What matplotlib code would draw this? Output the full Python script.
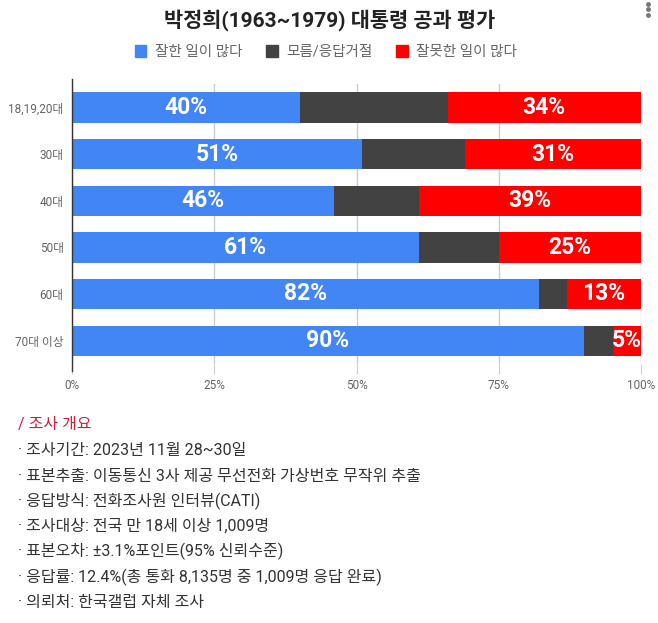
import matplotlib
matplotlib.use("Agg")
import matplotlib.pyplot as plt
from matplotlib.lines import Line2D
import numpy as np

plt.rcParams['font.family'] = ['Roboto', 'Noto Sans CJK KR', 'DejaVu Sans']

# Data
age_groups = ['18,19,20대', '30대', '40대', '50대', '60대', '70대 이상']
good = [40, 51, 46, 61, 82, 90]
unknown = [26, 18, 15, 14, 5, 5]
bad = [34, 31, 39, 25, 13, 5]
series_names = ['잘한 일이 많다', '모름/응답거절', '잘못한 일이 많다']
series_colors = ['#4285F4', '#424242', '#FF0000']
x_ticks = [0, 25, 50, 75, 100]

notes_title = '/ 조사 개요'
notes = [
    '조사기간: 2023년 11월 28~30일',
    '표본추출: 이동통신 3사 제공 무선전화 가상번호 무작위 추출',
    '응답방식: 전화조사원 인터뷰(CATI)',
    '조사대상: 전국 만 18세 이상 1,009명',
    '표본오차: ±3.1%포인트(95% 신뢰수준)',
    '응답률: 12.4%(총 통화 8,135명 중 1,009명 응답 완료)',
    '의뢰처: 한국갤럽 자체 조사',
]

fig = plt.figure(figsize=(6.58, 6.23), dpi=100)
ax = fig.add_axes([72 / 658, 1 - 364 / 623, (641 - 72) / 658, 280 / 623])

y = np.arange(len(age_groups))
good = np.array(good)
unknown = np.array(unknown)
bad = np.array(bad)
h = 0.65

ax.barh(y, good, height=h, color=series_colors[0], zorder=3)
ax.barh(y, unknown, left=good, height=h, color=series_colors[1], zorder=3)
ax.barh(y, bad, left=good + unknown, height=h, color=series_colors[2], zorder=3)

for i in range(len(y)):
    ax.text(good[i] / 2, y[i], f'{good[i]}%', ha='center', va='center',
            color='white', fontsize=16.5, fontweight='bold', zorder=4)
    ax.text(good[i] + unknown[i] + bad[i] / 2, y[i], f'{bad[i]}%', ha='center',
            va='center', color='white', fontsize=16.5, fontweight='bold', zorder=4)

ax.set_xlim(0, 100)
ax.set_ylim(len(y) - 0.5, -0.5)
ax.set_yticks(y)
ax.set_yticklabels(age_groups, fontsize=8.5, color='#666666')
ax.set_xticks(x_ticks)
ax.set_xticklabels([f'{t}%' for t in x_ticks], fontsize=8.5, color='#666666')
ax.tick_params(axis='y', length=0, pad=6)
ax.tick_params(axis='x', length=7, color='#cccccc', pad=4)
ax.grid(axis='x', color='#cccccc', linewidth=1, zorder=0)
for s in ['top', 'right', 'bottom']:
    ax.spines[s].set_visible(False)
ax.spines['left'].set_color('#333333')
ax.spines['left'].set_linewidth(1)
ax.spines['left'].set_bounds(len(y) - 0.5 + 0.15, -0.5 - 0.1)
ax.spines['left'].set_zorder(5)

# Title and legend
fig.text(330 / 658, 1 - 20 / 623, '박정희(1963~1979) 대통령 공과 평가', ha='center',
         va='center', fontsize=15, fontweight='bold', color='#222222')
handles = [plt.Rectangle((0, 0), 1, 1, color=c) for c in series_colors]
fig.legend(handles, series_names, loc='center', bbox_to_anchor=(326 / 658, 1 - 52 / 623),
           ncol=3, frameon=False, fontsize=10.5, labelcolor='#666666',
           handlelength=0.8, handleheight=0.8, handletextpad=0.6, columnspacing=1.6)

# Survey notes
fig.text(18 / 658, 1 - 425 / 623, notes_title, ha='left', va='center',
         fontsize=11.5, color='#D81B3C')
for k, line in enumerate(notes):
    fig.text(18 / 658, 1 - (451 + k * 25.2) / 623, '· ' + line, ha='left', va='center',
             fontsize=11.5, color='#333333')

# menu dots
for yy in [4, 9, 15]:
    fig.add_artist(Line2D([648 / 658], [1 - yy / 623], marker='o', markersize=2.5,
                          color='#777777', transform=fig.transFigure))

fig.savefig('out.png', dpi=100)
